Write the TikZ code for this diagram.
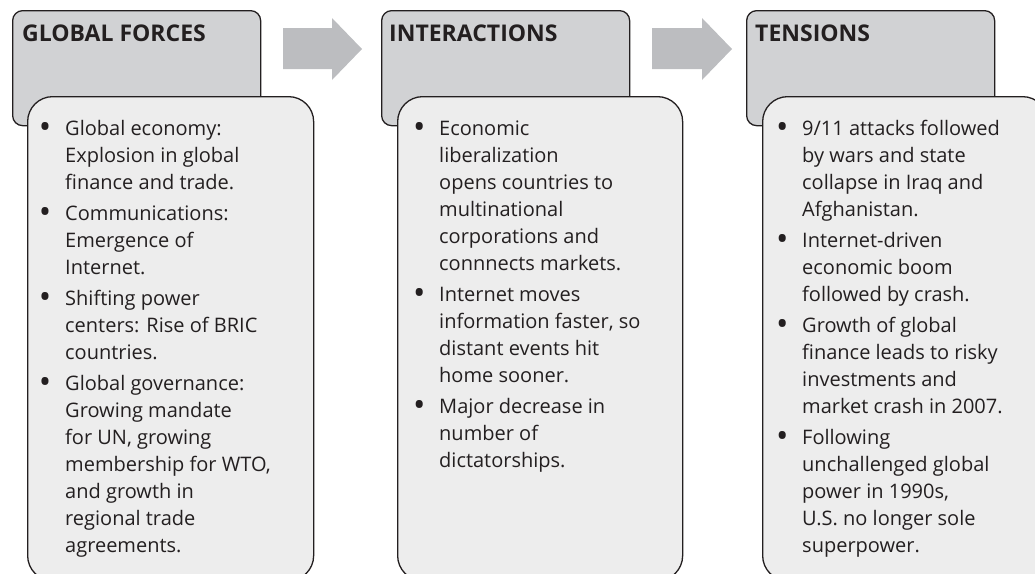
\documentclass[tikz,border=0pt]{standalone}
\usepackage{fontspec}
\usepackage{graphicx}
\setmainfont{Open Sans}
\definecolor{linec}{HTML}{231F20}
\definecolor{backgray}{HTML}{D1D2D4}
\definecolor{frontgray}{HTML}{EDEDED}
\definecolor{arrowgray}{HTML}{BCBDC0}
\definecolor{textc}{HTML}{231F20}
\newcommand{\bl}{\llap{\makebox[40pt][c]{\raisebox{-3pt}{\scalebox{1.65}{\textbullet}}}}}
\tikzset{
  backbox/.style={draw=linec, fill=backgray, line width=1.3pt, rounded corners=10pt, anchor=north west, minimum width=248pt, minimum height=115pt, inner sep=0pt},
  frontbox/.style={draw=linec, fill=frontgray, line width=1.3pt, rounded corners=25pt, anchor=north west, minimum width=286pt, minimum height=484pt, inner sep=0pt},
  title/.style={anchor=base west, inner sep=0pt, text=textc, font=\fontsize{23}{26}\selectfont\bfseries},
  body/.style={anchor=base west, inner sep=0pt, text=textc, font=\fontsize{20}{27}\selectfont},
  bigarrow/.style={fill=arrowgray, draw=none}
}
\begin{document}
\begin{tikzpicture}[x=1pt,y=-1pt]
\useasboundingbox (0,0) rectangle (1035,573);
% back boxes
\node[backbox] (g1) at (12,10) {};
\node[backbox] (g2) at (381,10) {};
\node[backbox] (g3) at (746,10) {};
% titles
\node[title] (h1) at (22,41.5) {GLOBAL FORCES};
\node[title] (h2) at (389,41.5) {INTERACTIONS};
\node[title] (h3) at (755,41.5) {TENSIONS};
% front boxes
\node[frontbox] (f1) at (27,96) {};
\node[frontbox, minimum width=285pt] (f2) at (397,96) {};
\node[frontbox, minimum width=285pt] (f3) at (762,96) {};
% arrows
\fill[bigarrow] (283,28) -- (332,28) -- (332,18) -- (362,49) -- (332,80) -- (332,69) -- (283,69) -- cycle;
\fill[bigarrow] (652,28) -- (702,28) -- (702,18) -- (732,49) -- (702,80) -- (702,69) -- (652,69) -- cycle;
% body texts
\node[body] (t1) at (65,135) {\begin{tabular}[t]{@{}l@{}}
\bl Global economy:\\
Explosion in global\\
finance and trade.\\[4pt]
\bl Communications:\\
Emergence of\\
Internet.\\[4pt]
\bl Shifting power\\
centers: Rise of BRIC\\
countries.\\[4pt]
\bl Global governance:\\
Growing mandate\\
for UN, growing\\
membership for WTO,\\
and growth in\\
regional trade\\
agreements.
\end{tabular}};
\node[body] (t2) at (439,135) {\begin{tabular}[t]{@{}l@{}}
\bl Economic\\
liberalization\\
opens countries to\\
multinational\\
corporations and\\
connnects markets.\\[4pt]
\bl Internet moves\\
information faster, so\\
distant events hit\\
home sooner.\\[4pt]
\bl Major decrease in\\
number of\\
dictatorships.
\end{tabular}};
\node[body] (t3) at (802,135) {\begin{tabular}[t]{@{}l@{}}
\bl 9/11 attacks followed\\
by wars and state\\
collapse in Iraq and\\
Afghanistan.\\[4pt]
\bl Internet-driven\\
economic boom\\
followed by crash.\\[4pt]
\bl Growth of global\\
finance leads to risky\\
investments and\\
market crash in 2007.\\[4pt]
\bl Following\\
unchallenged global\\
power in 1990s,\\
U.S. no longer sole\\
superpower.
\end{tabular}};
\end{tikzpicture}
\end{document}
